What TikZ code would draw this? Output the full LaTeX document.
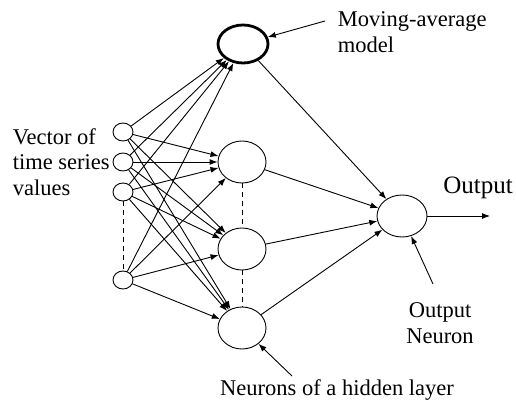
\documentclass[tikz,border=0pt]{standalone}
\usepackage{fontspec}
\setmainfont{Liberation Serif}
\usetikzlibrary{arrows.meta,shapes.geometric}

\begin{document}
\begin{tikzpicture}[x=1pt,y=-1pt,line width=0.9pt,
    every node/.style={font=\fontsize{22.5}{25.5}\selectfont}]

      \useasboundingbox (0,0) rectangle (516,401);

      \begin{scope}[every node/.style={ellipse,draw,inner sep=0pt}]
        \node[minimum width=20pt,minimum height=18pt] (x1) at (123,132) {};
        \node[minimum width=20pt,minimum height=18pt] (x2) at (123,162) {};
        \node[minimum width=20pt,minimum height=18pt] (x3) at (123,192) {};
        \node[minimum width=20pt,minimum height=18pt] (x4) at (123,280) {};
        \node[minimum width=50pt,minimum height=38pt,line width=2.8pt] (ma) at (243,44) {};
        \node[minimum width=48pt,minimum height=42pt] (h1) at (242,162) {};
        \node[minimum width=48pt,minimum height=42pt] (h2) at (242,249) {};
        \node[minimum width=48pt,minimum height=42pt] (h3) at (242,328) {};
        \node[minimum width=50pt,minimum height=42pt] (out) at (402,216) {};
      \end{scope}

      \node[anchor=west,align=left] (vec) at (9,162) {Vector of\\time series\\values};
      \node[anchor=west,align=left] (malab) at (334,32) {Moving-average\\model};
      \node[font=\fontsize{25}{28}\selectfont] (outlab) at (478,188) {Output};
      \node[align=center] (neuron) at (440,323) {Output\\Neuron};
      \node (hidlab) at (337,390) {Neurons of a hidden layer};

      \coordinate (maarr) at (325,21);
      \coordinate (neuarr) at (433,284);
      \coordinate (hidarr) at (292,376);
      \coordinate (outend) at (490,216);

      \begin{scope}[every edge/.style={draw,-{Latex[length=8pt,width=6pt]}}]
        \path (x1) edge (ma);
        \path (x2) edge (ma);
        \path (x3) edge (ma);
        \path (x4) edge (ma);
        \path (x1) edge (h1);
        \path (x2) edge (h1);
        \path (x3) edge (h1);
        \path (x4) edge (h1);
        \path (x1) edge (h2);
        \path (x2) edge (h2);
        \path (x3) edge (h2);
        \path (x4) edge (h2);
        \path (x1) edge (h3);
        \path (x2) edge (h3);
        \path (x3) edge (h3);
        \path (x4) edge (h3);
        \path (ma) edge (out);
        \path (h1) edge (out);
        \path (h2) edge (out);
        \path (h3) edge (out);
        \path (out) edge (outend);
        \path (maarr) edge (ma);
        \path (neuarr) edge (out);
        \path (hidarr) edge (h3);
      \end{scope}

      \begin{scope}[dash pattern=on 5pt off 4pt]
        \draw (x3) -- (x4);
        \draw (h1) -- (h2);
        \draw (h2) -- (h3);
      \end{scope}

    \end{tikzpicture}
\end{document}
